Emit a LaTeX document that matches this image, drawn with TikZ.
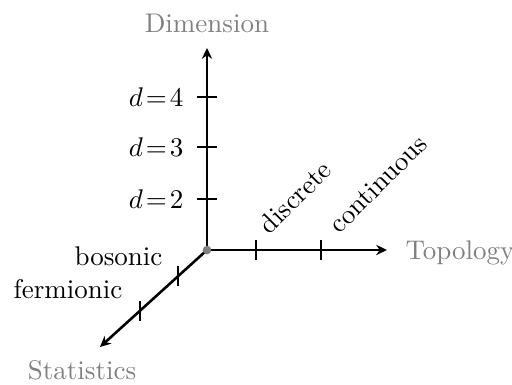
\documentclass[tikz,border=0pt]{standalone}
\usetikzlibrary{arrows.meta}
\begin{document}
\begin{tikzpicture}[x=0.3704pt,y=-0.3704pt,
  axis/.style={line width=0.95pt,-{Stealth[length=4pt,width=3.8pt]}},
  tickmark/.style={line width=0.95pt},
  axlabel/.style={text=gray,inner sep=0pt},
  lab/.style={inner sep=0pt}]
\useasboundingbox (0,0) rectangle (512,385);
% axes
\coordinate (O) at (207,250);
\coordinate (Zend) at (207,48);
\coordinate (Xend) at (387,250);
\coordinate (Yend) at (100,347);
\draw[axis] (O) -- (Zend);
\draw[axis] (O) -- (Xend);
\draw[axis] (O) -- (Yend);
% ticks
\coordinate (t4) at (207,97);
\coordinate (t3) at (207,147);
\coordinate (t2) at (207,199);
\coordinate (tdis) at (256,250);
\coordinate (tcon) at (321,250);
\coordinate (tbos) at (178,276);
\coordinate (tfer) at (140,311);
\foreach \t in {t4,t3,t2}{\draw[tickmark] (\t) +(-10,0) -- +(10,0);}
\foreach \t in {tdis,tcon,tbos,tfer}{\draw[tickmark] (\t) +(0,-10) -- +(0,10);}
\fill[gray] (O) circle[radius=1.6pt];
% labels
\node[axlabel,anchor=base] (dim) at (207,33) {Dimension};
\node[axlabel,anchor=base west] (topo) at (405,260) {Topology};
\node[axlabel,anchor=base] (stat) at (82,380) {Statistics};
\node[lab,anchor=east] (d4) at (184,97) {$d\!=\!4$};
\node[lab,anchor=east] (d3) at (184,147) {$d\!=\!3$};
\node[lab,anchor=east] (d2) at (184,199) {$d\!=\!2$};
\node[lab,anchor=base east] (bos) at (163,266) {bosonic};
\node[lab,anchor=base east] (fer) at (123,299) {fermionic};
\node[lab,rotate=45] (dis) at (295,197) {discrete};
\node[lab,rotate=45] (con) at (378,184) {continuous};
\end{tikzpicture}
\end{document}
